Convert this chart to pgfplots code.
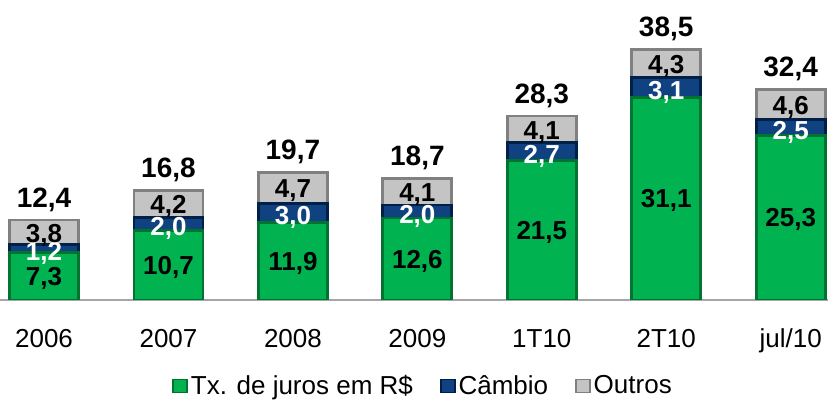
\documentclass[border=0pt]{standalone}
\usepackage{pgfplots}
\pgfplotsset{compat=1.18}
\usepackage{fontspec}
\setmainfont{Liberation Sans}
\definecolor{cgreen}{RGB}{0,178,80}
\definecolor{cgreend}{RGB}{0,115,48}
\definecolor{cblue}{RGB}{16,66,130}
\definecolor{cblued}{RGB}{0,32,72}
\definecolor{cgray}{RGB}{196,196,196}
\definecolor{cgrayd}{RGB}{128,128,128}
\begin{document}
\begin{tikzpicture}
\useasboundingbox (0,0) rectangle (414pt,202.5pt);
\pgfplotsset{commonax/.style={scale only axis, width=414pt, height=150pt,
  at={(0pt,52.5pt)}, anchor=south west,
  xmin=-0.354, xmax=6.30, ymin=0, ymax=46.15}}
\begin{axis}[commonax, ybar stacked, bar width=0.555,
  axis y line=none, axis x line=bottom,
  x axis line style={-, draw=gray!70, line width=1pt},
  xtick={0,...,6},
  xticklabels={2006,2007,2008,2009,1T10,2T10,jul/10},
  major tick length=0pt,
  xticklabel style={anchor=base, yshift=-24pt, font=\fontsize{13}{13}\selectfont},
  legend style={at={(0.5115,-0.287)}, anchor=center, draw=none, fill=none,
    legend columns=3, font=\fontsize{13}{13}\selectfont,
    /tikz/every even column/.append style={column sep=12pt},
    nodes={inner sep=1.5pt}},
  legend image code/.code={\draw[#1, line width=0.8pt] (0pt,-3.25pt) rectangle (7pt,3.25pt);},
]
\addplot[fill=cgreen, draw=cgreend, line width=1.4pt] coordinates {(0,7.3) (1,10.7) (2,11.9) (3,12.6) (4,21.5) (5,31.1) (6,25.3)};
\addplot[fill=cblue, draw=cblued, line width=1.4pt] coordinates {(0,1.2) (1,2.0) (2,3.0) (3,2.0) (4,2.7) (5,3.1) (6,2.5)};
\addplot[fill=cgray, draw=cgrayd, line width=1.4pt] coordinates {(0,3.8) (1,4.2) (2,4.7) (3,4.1) (4,4.1) (5,4.3) (6,4.6)};
\legend{Tx. de juros em R\$, Câmbio, Outros}
\end{axis}
\begin{axis}[commonax, hide axis,
  every node near coord/.append style={anchor=center, yshift=-1.5pt, font=\bfseries\fontsize{13}{13}\selectfont, inner sep=0pt},
]
\addplot[only marks, mark=none, nodes near coords, point meta=explicit symbolic,
  every node near coord/.append style={yshift=0.5pt}] table[meta=lab] {
x y lab
0 3.65 {7,3}
1 5.35 {10,7}
2 5.95 {11,9}
3 6.3 {12,6}
4 10.75 {21,5}
5 15.55 {31,1}
6 12.65 {25,3}
};
\addplot[only marks, mark=none, nodes near coords, point meta=explicit symbolic,
  every node near coord/.append style={text=white, yshift=-1pt}] table[meta=lab] {
x y lab
0 7.9 {1,2}
1 11.7 {2,0}
2 13.4 {3,0}
3 13.6 {2,0}
4 22.85 {2,7}
5 32.65 {3,1}
6 26.55 {2,5}
};
\addplot[only marks, mark=none, nodes near coords, point meta=explicit symbolic] table[meta=lab] {
x y lab
0 10.4 {3,8}
1 14.8 {4,2}
2 17.25 {4,7}
3 16.65 {4,1}
4 26.25 {4,1}
5 36.35 {4,3}
6 30.1 {4,6}
};
\addplot[only marks, mark=none, nodes near coords, point meta=explicit symbolic,
  every node near coord/.append style={anchor=base, yshift=8pt, font=\bfseries\fontsize{14}{14}\selectfont}] table[meta=lab] {
x y lab
0 12.3 {12,4}
1 16.9 {16,8}
2 19.6 {19,7}
3 18.7 {18,7}
4 28.3 {28,3}
5 38.5 {38,5}
6 32.4 {32,4}
};
\end{axis}
\end{tikzpicture}
\end{document}
